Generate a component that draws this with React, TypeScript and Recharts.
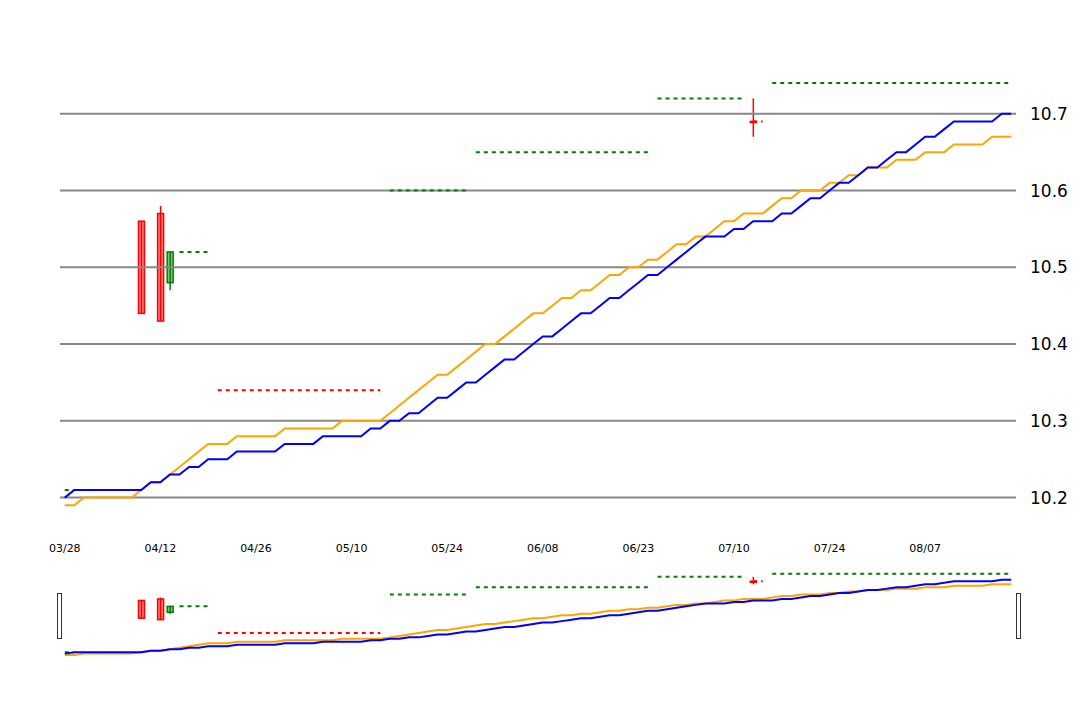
import React from "react";
import { ComposedChart, Line, Bar, XAxis, YAxis, ReferenceLine } from "recharts";

const TICK_LABELS = ["03/28", "04/12", "04/26", "05/10", "05/24", "06/08", "06/23", "07/10", "07/24", "08/07"];
const Y_TICKS = [10.2, 10.3, 10.4, 10.5, 10.6, 10.7];

const BLUE = [
  10.20, 10.21, 10.21, 10.21, 10.21, 10.21, 10.21, 10.21, 10.21, 10.22,
  10.22, 10.23, 10.23, 10.24, 10.24, 10.25, 10.25, 10.25, 10.26, 10.26,
  10.26, 10.26, 10.26, 10.27, 10.27, 10.27, 10.27, 10.28, 10.28, 10.28,
  10.28, 10.28, 10.29, 10.29, 10.30, 10.30, 10.31, 10.31, 10.32, 10.33,
  10.33, 10.34, 10.35, 10.35, 10.36, 10.37, 10.38, 10.38, 10.39, 10.40,
  10.41, 10.41, 10.42, 10.43, 10.44, 10.44, 10.45, 10.46, 10.46, 10.47,
  10.48, 10.49, 10.49, 10.50, 10.51, 10.52, 10.53, 10.54, 10.54, 10.54,
  10.55, 10.55, 10.56, 10.56, 10.56, 10.57, 10.57, 10.58, 10.59, 10.59,
  10.60, 10.61, 10.61, 10.62, 10.63, 10.63, 10.64, 10.65, 10.65, 10.66,
  10.67, 10.67, 10.68, 10.69, 10.69, 10.69, 10.69, 10.69, 10.70, 10.70,
];

const ORANGE = [
  10.19, 10.19, 10.20, 10.20, 10.20, 10.20, 10.20, 10.20, 10.21, 10.22,
  10.22, 10.23, 10.24, 10.25, 10.26, 10.27, 10.27, 10.27, 10.28, 10.28,
  10.28, 10.28, 10.28, 10.29, 10.29, 10.29, 10.29, 10.29, 10.29, 10.30,
  10.30, 10.30, 10.30, 10.30, 10.31, 10.32, 10.33, 10.34, 10.35, 10.36,
  10.36, 10.37, 10.38, 10.39, 10.40, 10.40, 10.41, 10.42, 10.43, 10.44,
  10.44, 10.45, 10.46, 10.46, 10.47, 10.47, 10.48, 10.49, 10.49, 10.50,
  10.50, 10.51, 10.51, 10.52, 10.53, 10.53, 10.54, 10.54, 10.55, 10.56,
  10.56, 10.57, 10.57, 10.57, 10.58, 10.59, 10.59, 10.60, 10.60, 10.60,
  10.61, 10.61, 10.62, 10.62, 10.63, 10.63, 10.63, 10.64, 10.64, 10.64,
  10.65, 10.65, 10.65, 10.66, 10.66, 10.66, 10.66, 10.67, 10.67, 10.67,
];

// candles: index, open, close, low, high
const CANDLES = [
  { i: 8, open: 10.56, close: 10.44, low: 10.44, high: 10.56 },
  { i: 10, open: 10.57, close: 10.43, low: 10.43, high: 10.58 },
  { i: 11, open: 10.48, close: 10.52, low: 10.47, high: 10.52 },
  { i: 72, open: 10.69, close: 10.69, low: 10.67, high: 10.72 },
];

// dashed level segments: [from, to, value]
const RED_LEVELS: [number, number, number][] = [[16, 33, 10.34], [72, 73, 10.69]];
const GREEN_A: [number, number, number][] = [[12, 15, 10.52], [43, 61, 10.65], [74, 99, 10.74]];
const GREEN_B: [number, number, number][] = [[0, 1, 10.21], [34, 42, 10.60], [62, 71, 10.72]];

const level = (segs: [number, number, number][], i: number) => {
  const s = segs.find(([a, b]) => i >= a && i <= b);
  return s ? s[2] : null;
};

const data = BLUE.map((b, i) => {
  const c = CANDLES.find(k => k.i === i);
  return {
    i,
    blue: b,
    orange: ORANGE[i],
    red: level(RED_LEVELS, i),
    ga: level(GREEN_A, i),
    gb: level(GREEN_B, i),
    range: c ? [c.low, c.high] : null,
    candle: c || null,
  };
});

function Candle(props: any) {
  const { x, y, width, height, payload } = props;
  const c = payload.candle;
  if (!c) return null;
  const k = height / (c.high - c.low || 1);
  const cx = x + width / 2;
  const yOf = (v: number) => y + (c.high - v) * k;
  const up = c.close > c.open;
  const col = up ? "#008000" : "#ff0000";
  const fill = up ? "rgba(0,128,0,0.5)" : "rgba(255,0,0,0.5)";
  const top = yOf(Math.max(c.open, c.close));
  const bh = Math.max(yOf(Math.min(c.open, c.close)) - top, 1);
  const bw = Math.max(width * 0.6, 3);
  return (
    <g>
      <line x1={cx} x2={cx} y1={y} y2={y + height} stroke={col} strokeWidth={1.5} />
      <rect x={cx - bw / 2} y={top} width={bw} height={bh} fill={fill} stroke={col} strokeWidth={1.5} />
    </g>
  );
}

function Series({ mini }: { mini: boolean }) {
  const dash = "4 4";
  return [
    <Bar key="c" dataKey="range" shape={<Candle />} isAnimationActive={false} />,
    <Line key="r" dataKey="red" stroke="#ff0000" strokeDasharray={dash} dot={false} strokeWidth={2} isAnimationActive={false} />,
    <Line key="ga" dataKey="ga" stroke="#008000" strokeDasharray={dash} dot={false} strokeWidth={2} isAnimationActive={false} />,
    <Line key="gb" dataKey="gb" stroke="#008000" strokeDasharray={dash} dot={false} strokeWidth={2} isAnimationActive={false} />,
    <Line key="o" type="linear" dataKey="orange" stroke="#ffa500" dot={false} strokeWidth={2} isAnimationActive={false} />,
    <Line key="b" type="linear" dataKey="blue" stroke="#0000ff" dot={false} strokeWidth={2} isAnimationActive={false} />,
  ];
}

const traveller: React.CSSProperties = {
  position: "absolute", top: 593, width: 3, height: 44, background: "#fff", border: "1px solid #333",
};

export default function App() {
  return (
    <div style={{ position: "absolute", left: 0, top: 0, width: 1080, height: 720, background: "#fff", fontFamily: "DejaVu Sans" }}>
      <ComposedChart width={1080} height={560} data={data} margin={{ top: 37, right: 0, left: 60, bottom: 0 }} barCategoryGap={0}>
        <XAxis dataKey="i" ticks={[0, 10, 20, 30, 40, 50, 60, 70, 80, 90]}
          tickFormatter={(v: number) => TICK_LABELS[v / 10]} axisLine={false} tickLine={false}
          interval={0} height={24} tick={{ fill: "#000", fontSize: 11 }} />
        <YAxis orientation="right" domain={[10.15, 10.8]} ticks={Y_TICKS}
          width={64} axisLine={false} tickLine={false} tick={{ fill: "#000", fontSize: 17, dx: 6 }} />
        {Y_TICKS.map(t => <ReferenceLine key={t} y={t} stroke="#888" strokeWidth={2} />)}
        {Series({ mini: false })}
      </ComposedChart>
      <div style={{ position: "absolute", left: 0, top: 565 }}>
        <ComposedChart width={1080} height={96} data={data} margin={{ top: 0, right: 64, left: 60, bottom: 0 }} barCategoryGap={0}>
          <XAxis dataKey="i" hide />
          <YAxis domain={[10.15, 10.8]} hide />
          {Series({ mini: true })}
        </ComposedChart>
      </div>
      <div style={{ ...traveller, left: 57 }} />
      <div style={{ ...traveller, left: 1016 }} />
    </div>
  );
}
